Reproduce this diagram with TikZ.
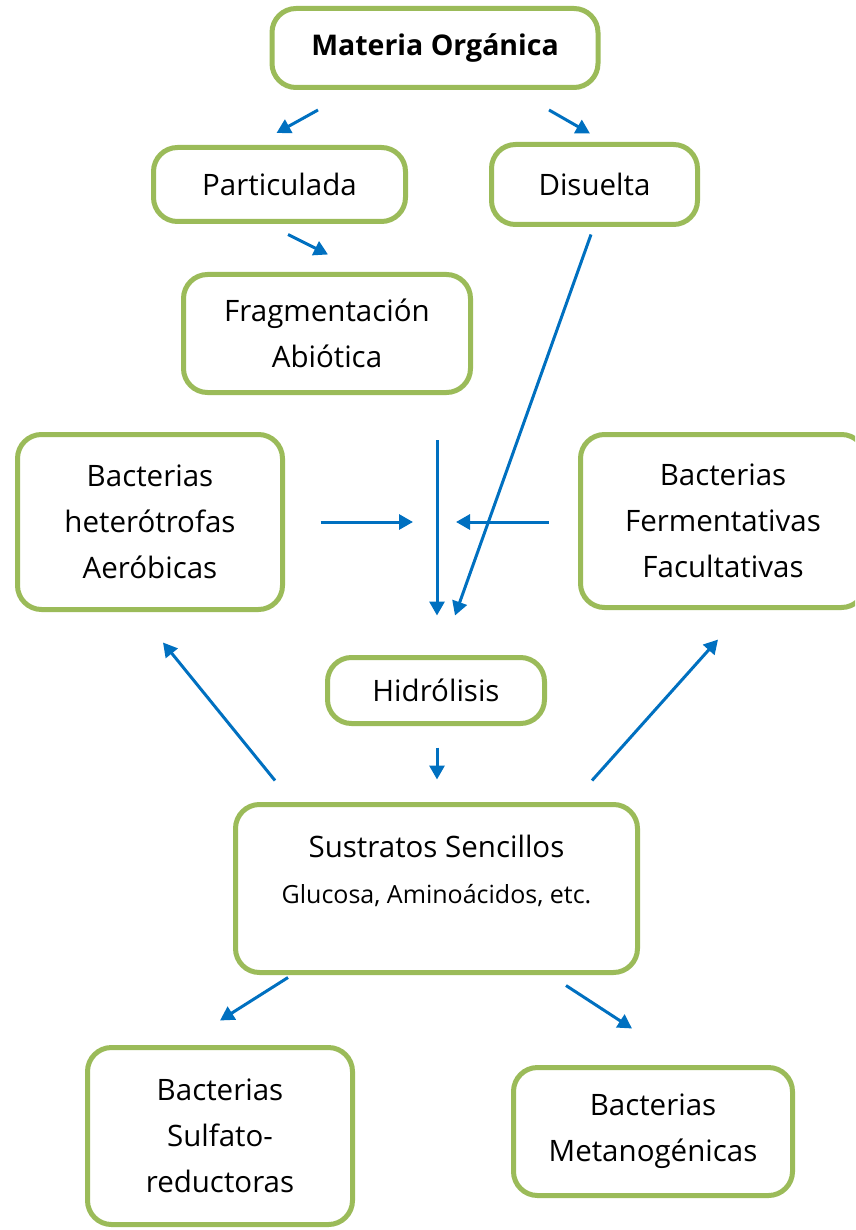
\documentclass[tikz,border=0pt]{standalone}
\usepackage{fontspec}
\setmainfont{Open Sans}
\usepackage{xcolor}
\usepackage{tikz}
\usetikzlibrary{arrows.meta, positioning}

\definecolor{boxgreen}{HTML}{9BBB59}
\definecolor{arrblue}{HTML}{0070C0}

\begin{document}
\begin{tikzpicture}[
        x=1pt, y=-1pt,
        box/.style={rectangle, draw=boxgreen, line width=5pt, rounded corners=24pt, fill=white, align=center, inner sep=0pt, font=\fontsize{29.5}{46}\selectfont},
        arr/.style={-{Triangle[length=14pt, width=15pt]}, draw=arrblue, line width=3pt}
    ]
        \clip (0,0) rectangle (855,1230);
        \useasboundingbox (0,0) rectangle (855,1230);

        % ================= PARTE SUPERIOR =================
        \node[box, minimum width=326pt, minimum height=79pt, font=\fontsize{28.5}{46}\selectfont\bfseries] (mat) at (435,48) {Materia Orgánica};
        \node[box, minimum width=252pt, minimum height=74pt] (part) at (279.5,184.5) {Particulada};
        \node[box, minimum width=206pt, minimum height=80pt] (dis) at (594.5,184.5) {Disuelta};
        \node[box, minimum width=287pt, minimum height=118pt] (frag) at (327,333.5) {Fragmentación\\Abiótica};

        % ================= BACTERIAS E HIDRÓLISIS =================
        \node[box, minimum width=265pt, minimum height=175pt] (het) at (150,522) {Bacterias\\heterótrofas\\Aeróbicas};
        \node[box, minimum width=285pt, minimum height=173pt] (fer) at (723,521) {Bacterias\\Fermentativas\\Facultativas};
        \node[box, minimum width=217pt, minimum height=66pt] (hid) at (436,690.5) {Hidrólisis};

        % ================= PARTE INFERIOR =================
        \node[box, minimum width=402pt, minimum height=168pt] (sus) at (436.5,888.5) {Sustratos Sencillos\\{\fontsize{25}{46}\selectfont Glucosa, Aminoácidos, etc.}\\[-22pt]\strut};
        \node[box, minimum width=265pt, minimum height=177pt] (sul) at (220,1136) {Bacterias\\Sulfato-\\reductoras};
        \node[box, minimum width=279pt, minimum height=128pt] (met) at (653,1131.5) {Bacterias\\Metanogénicas};

        % puntos libres de las flechas
        \coordinate (hin) at (437,440);
        \coordinate (hetin) at (413,522);
        \coordinate (ferin) at (456,522);

        \draw[arr] ([shift={(-117,20)}]mat.south) -- ([shift={(-3,-12)}]part.north);
        \draw[arr] ([shift={(114,20)}]mat.south) -- ([shift={(-4.5,-8.5)}]dis.north);
        \draw[arr] ([shift={(8.5,10.5)}]part.south) -- ([shift={(1,-17.5)}]frag.north);
        \draw[arr] ([shift={(-3.5,7.5)}]dis.south) -- ([shift={(19,-39.5)}]hid.north);
        \draw[arr] (hin) -- ([shift={(1,-39.5)}]hid.north);
        \draw[arr] ([shift={(35.5,0)}]het.east) -- (hetin);
        \draw[arr] ([shift={(-29.5,1)}]fer.west) -- (ferin);
        \draw[arr] ([shift={(1,21.5)}]hid.south) -- ([shift={(0.5,-22.5)}]sus.north);
        \draw[arr] ([shift={(-161.5,-21.5)}]sus.north) -- ([shift={(13,30.5)}]het.south);
        \draw[arr] ([shift={(155.5,-21.5)}]sus.north) -- ([shift={(-5,29.5)}]fer.south);
        \draw[arr] ([shift={(-148.5,2.5)}]sus.south) -- ([shift={(0,-24.5)}]sul.north);
        \draw[arr] ([shift={(129.5,10.5)}]sus.south) -- ([shift={(-21,-36.5)}]met.north);
    \end{tikzpicture}
\end{document}
